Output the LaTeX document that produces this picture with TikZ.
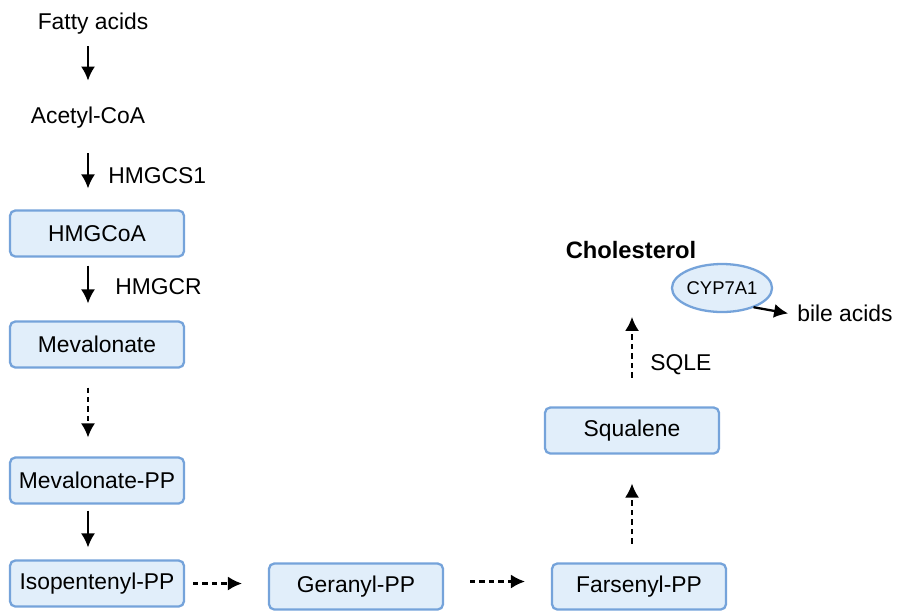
\documentclass[tikz,border=0pt]{standalone}
\usepackage{fontspec}
\setmainfont{Liberation Sans}
\usetikzlibrary{arrows.meta,shapes.geometric}
\definecolor{boxfill}{HTML}{E1EEFA}
\definecolor{boxline}{HTML}{75A3DA}
\tikzset{
  txt/.style={inner sep=0pt,text height=0.35cm,text depth=0.1cm,font=\fontsize{13}{15}\selectfont},
  lbl/.style={txt,anchor=west},
  metab/.style={draw=boxline,fill=boxfill,line width=1.3pt,rounded corners=3pt,outer sep=0pt,
    minimum width=3.48cm,minimum height=0.92cm,font=\fontsize{13}{15}\selectfont},
  enzyme/.style={ellipse,draw=boxline,fill=boxfill,line width=1.3pt,outer sep=0pt,inner sep=0pt,
    minimum width=1.52cm,minimum height=0.96cm,font=\fontsize{10.5}{12}\selectfont},
  flow/.style={-{Latex[length=8pt,width=8pt]},line width=1.3pt},
  dflow/.style={flow,dash pattern=on 3pt off 2.4pt}
}
\begin{document}
\begin{tikzpicture}
\useasboundingbox (0,0) rectangle (17.96,-12.2);
\node[txt] (fatty) at (1.86,-0.46) {Fatty acids};
\node[txt] (acetyl) at (1.76,-2.34) {Acetyl-CoA};
\node[metab] (hmgcoa) at (1.94,-4.67) {HMGCoA};
\node[metab] (meval) at (1.94,-6.89) {Mevalonate};
\node[metab] (mevpp) at (1.94,-9.61) {Mevalonate-PP};
\node[metab] (ipp) at (1.94,-11.67) {Isopentenyl-PP};
\node[metab] (geranyl) at (7.12,-11.73) {Geranyl-PP};
\node[metab] (farsenyl) at (12.78,-11.73) {Farsenyl-PP};
\node[metab] (squalene) at (12.64,-8.61) {Squalene};
\node[txt,font=\fontsize{13.5}{15}\selectfont\bfseries] (chol) at (12.62,-5.05) {Cholesterol};
\node[enzyme] (cyp) at (14.44,-5.76) {CYP7A1};
\node[lbl] (bile) at (15.94,-6.30) {bile acids};
\node[lbl] (hmgcs) at (2.16,-3.54) {HMGCS1};
\node[lbl] (hmgcr) at (2.30,-5.76) {HMGCR};
\node[lbl] (sqle) at (13.0,-7.28) {SQLE};
\draw[flow,shorten <=0.235cm,shorten >=0.495cm] (fatty.south -| acetyl) -- (acetyl);
\draw[flow,shorten <=0.495cm,shorten >=0.44cm] (acetyl.south) -- (acetyl.south |- hmgcoa.north);
\draw[flow,shorten <=0.18cm,shorten >=0.36cm] ([xshift=-0.18cm]hmgcoa.south) -- ([xshift=-0.18cm]meval.north);
\draw[dflow,shorten <=0.40cm,shorten >=0.40cm] ([xshift=-0.18cm]meval.south) -- ([xshift=-0.18cm]mevpp.north);
\draw[flow,shorten <=0.14cm,shorten >=0.26cm] ([xshift=-0.18cm]mevpp.south) -- ([xshift=-0.18cm]ipp.north);
\draw[dflow,shorten <=0.18cm,shorten >=0.54cm] (ipp.east) -- (ipp.east -| geranyl.west);
\draw[dflow,shorten <=0.54cm,shorten >=0.54cm] ([yshift=0.1cm]geranyl.east) -- ([yshift=0.1cm]geranyl.east -| farsenyl.west);
\draw[dflow,shorten <=0.40cm,shorten >=0.60cm] (farsenyl.north -| squalene) -- (squalene.south);
\draw[dflow,shorten <=0.60cm,shorten >=1.055cm] (squalene.north) -- (squalene.north |- chol.south);
\draw[flow,shorten <=0.02cm,shorten >=0.18cm] (cyp.-32) -- (bile.west);
\end{tikzpicture}
\end{document}
